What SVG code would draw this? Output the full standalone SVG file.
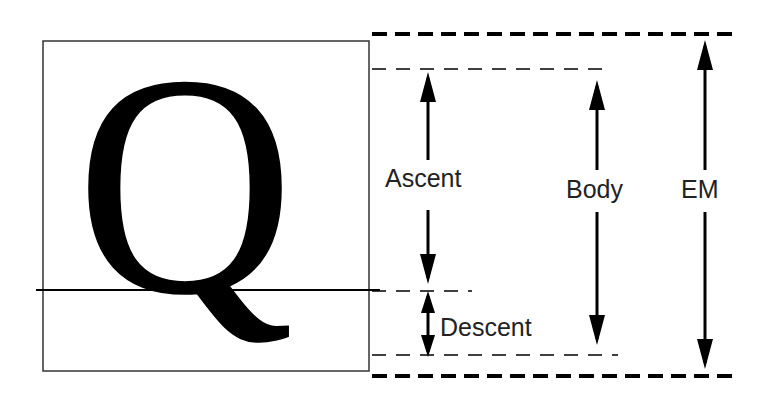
<svg xmlns="http://www.w3.org/2000/svg" width="778" height="412" viewBox="0 0 778 412">
<defs>
<marker id="ah" markerUnits="userSpaceOnUse" viewBox="0 0 30 16" markerWidth="30" markerHeight="16" refX="24" refY="8" orient="auto-start-reverse"><path d="M0,0 L30,8 L0,16 Z" fill="#000"/></marker>
<marker id="ahs" markerUnits="userSpaceOnUse" viewBox="0 0 22 14" markerWidth="22" markerHeight="14" refX="17" refY="7" orient="auto-start-reverse"><path d="M0,0 L22,7 L0,14 Z" fill="#000"/></marker>
<style>
.thick{stroke:#000;stroke-width:4;stroke-dasharray:15 8;fill:none}
.thin{stroke:#000;stroke-width:1.5;stroke-dasharray:14 10;fill:none}
.arr{stroke:#000;stroke-width:3;fill:none}
.lbl{font-family:"Liberation Sans",Arial,sans-serif;font-size:25px;fill:#222}
</style>
</defs>
<rect width="778" height="412" fill="#fff"/>
<g id="glyph">
<rect x="43" y="41" width="326" height="330" fill="none" stroke="#333" stroke-width="1.5"/>
<text transform="translate(185,291) scale(1,1.05)" text-anchor="middle" font-family="'Liberation Serif','Times New Roman',serif" font-size="300" fill="#000" stroke="#000" stroke-width="1.5">Q</text>
<line x1="36" y1="290" x2="380" y2="290" stroke="#000" stroke-width="2"/>
</g>
<g id="guides">
<line class="thick" x1="372" y1="34" x2="737" y2="34"/>
<line class="thin" x1="372" y1="69" x2="604" y2="69"/>
<line class="thin" x1="372" y1="291" x2="472" y2="291"/>
<line class="thin" x1="372" y1="355" x2="618" y2="355"/>
<line class="thick" x1="372" y1="376" x2="737" y2="376"/>
</g>
<g id="connectors">
<line class="arr" x1="428" y1="160" x2="428" y2="78" marker-end="url(#ah)"/>
<line class="arr" x1="428" y1="210" x2="428" y2="278" marker-end="url(#ah)"/>
<line class="arr" x1="428" y1="296" x2="428" y2="352" marker-start="url(#ahs)" marker-end="url(#ahs)"/>
<line class="arr" x1="597" y1="170" x2="597" y2="86" marker-end="url(#ah)"/>
<line class="arr" x1="597" y1="212" x2="597" y2="339" marker-end="url(#ah)"/>
<line class="arr" x1="705" y1="170" x2="705" y2="46" marker-end="url(#ah)"/>
<line class="arr" x1="705" y1="212" x2="705" y2="363" marker-end="url(#ah)"/>
</g>
<g id="ascent"><text class="lbl" x="385" y="187">Ascent</text></g>
<g id="descent"><text class="lbl" x="440" y="336">Descent</text></g>
<g id="body"><text class="lbl" x="566" y="198">Body</text></g>
<g id="em"><text class="lbl" x="681" y="198">EM</text></g>
</svg>
